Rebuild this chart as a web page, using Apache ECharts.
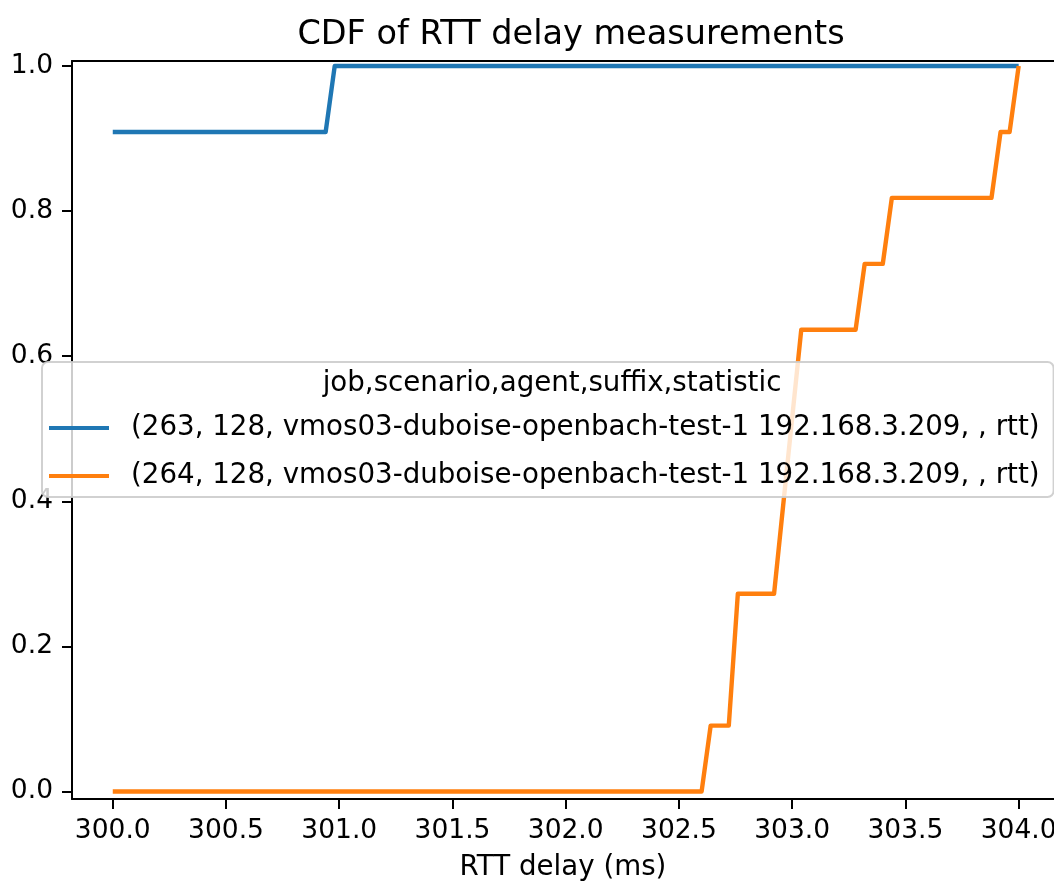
<!DOCTYPE html>
<html>
<head>
<meta charset="utf-8">
<script src="https://cdn.jsdelivr.net/npm/echarts@6/dist/echarts.min.js"></script>
<style>
html,body{margin:0;padding:0;background:#fff;}
#chart{width:1054px;height:883px;}
</style>
</head>
<body>
<div id="chart"></div>
<script>
const titleText = 'CDF of RTT delay measurements';
const xAxisName = 'RTT delay (ms)';
const legendTitle = 'job,scenario,agent,suffix,statistic';
const seriesNames = [
  '(263, 128, vmos03-duboise-openbach-test-1 192.168.3.209, , rtt)',
  '(264, 128, vmos03-duboise-openbach-test-1 192.168.3.209, , rtt)'
];
const seriesColors = ['#1f77b4', '#ff7f0e'];

const blueX = [300.0, 300.94, 300.98, 304.0];
const blueY = [0.9091, 0.9091, 1.0, 1.0];
const orangeX = [300.0, 302.60, 302.64, 302.72, 302.76, 302.92, 303.04, 303.28, 303.32, 303.40, 303.44, 303.88, 303.92, 303.96, 304.0];
const orangeY = [0, 0, 0.0909, 0.0909, 0.2727, 0.2727, 0.6364, 0.6364, 0.7273, 0.7273, 0.8182, 0.8182, 0.9091, 0.9091, 1.0];

const xTicks = [300.0, 300.5, 301.0, 301.5, 302.0, 302.5, 303.0, 303.5, 304.0];
const yTicks = [0.0, 0.2, 0.4, 0.6, 0.8, 1.0];

const FONT = 'DejaVu Sans';
const pairs = (xs, ys) => xs.map((x, i) => [x, ys[i]]);
const X_MIN = 299.82, X_MAX = 304.156;

const chart = echarts.init(document.getElementById('chart'), null, {renderer: 'canvas'});
chart.setOption({
  animation: false,
  backgroundColor: '#fff',
  title: [
    {
      text: titleText,
      left: 566, top: 10, textAlign: 'center',
      textStyle: {fontFamily: FONT, fontSize: 33.5, fontWeight: 'normal', color: '#000', lineHeight: 40}
    },
    {
      text: legendTitle,
      left: 547, top: 363, textAlign: 'center', z: 10,
      textStyle: {fontFamily: FONT, fontSize: 27.7, fontWeight: 'normal', color: '#000', lineHeight: 32}
    }
  ],
  grid: {
    left: 72, right: 0, top: 61, bottom: 84, show: false,
    containLabel: false, outerBoundsMode: 'none'
  },
  xAxis: [
    {
      type: 'value', min: X_MIN, max: X_MAX, position: 'bottom',
      name: xAxisName, nameLocation: 'middle', nameGap: 55,
      nameTextStyle: {fontFamily: FONT, fontSize: 27.7, color: '#000'},
      axisLine: {show: true, onZero: false, lineStyle: {color: '#000', width: 2}},
      axisTick: {show: true, length: 10, lineStyle: {color: '#000', width: 2}, customValues: xTicks},
      axisLabel: {margin: 19, fontFamily: FONT, fontSize: 26.5, color: '#000', customValues: xTicks,
        formatter: v => Number(v).toFixed(1)},
      splitLine: {show: false}
    },
    {
      type: 'value', min: X_MIN, max: X_MAX, position: 'top',
      axisLine: {show: true, onZero: false, lineStyle: {color: '#000', width: 2}},
      axisTick: {show: false}, axisLabel: {show: false}, splitLine: {show: false}
    }
  ],
  yAxis: {
    type: 'value', min: -0.0103, max: 1.0069,
    axisLine: {show: true, onZero: false, lineStyle: {color: '#000', width: 2}},
    axisTick: {show: true, length: 10, lineStyle: {color: '#000', width: 2}, customValues: yTicks},
    axisLabel: {margin: 19, fontFamily: FONT, fontSize: 26.5, color: '#000', customValues: yTicks,
      formatter: v => Number(v).toFixed(1)},
    splitLine: {show: false}
  },
  legend: {
    orient: 'vertical', left: 42, top: 362,
    padding: [50, 14, 5, 7],
    itemGap: 16, itemWidth: 60, itemHeight: 4, icon: 'rect',
    backgroundColor: 'rgba(255,255,255,0.8)',
    borderColor: 'rgba(204,204,204,0.9)', borderWidth: 2, borderRadius: 6,
    textStyle: {fontFamily: FONT, fontSize: 27.7, color: '#000', lineHeight: 32, padding: [0, 0, 0, 17]},
    data: seriesNames
  },
  series: [
    {
      name: seriesNames[0], type: 'line', data: pairs(blueX, blueY), symbol: 'none',
      xAxisIndex: 0, color: seriesColors[0], lineStyle: {width: 4.4, color: seriesColors[0], join: 'round'}, z: 2
    },
    {
      name: seriesNames[1], type: 'line', data: pairs(orangeX, orangeY), symbol: 'none',
      xAxisIndex: 0, color: seriesColors[1], lineStyle: {width: 4.4, color: seriesColors[1], join: 'round'}, z: 3
    }
  ]
});
</script>
</body>
</html>
